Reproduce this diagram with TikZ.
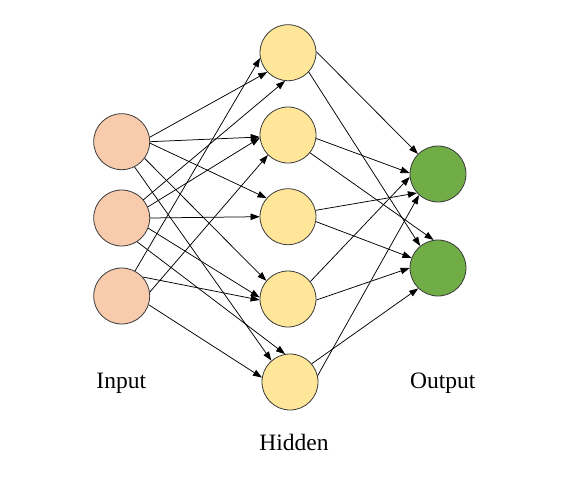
\documentclass[tikz,border=0pt]{standalone}
\usepackage{fontspec}
\setmainfont{Liberation Serif}
\usetikzlibrary{arrows.meta}
\definecolor{inpc}{HTML}{F8CBAD}
\definecolor{hidc}{HTML}{FFE699}
\definecolor{outc}{HTML}{70AD47}
\definecolor{rimc}{HTML}{3A3A3A}
\begin{document}
\begin{tikzpicture}[x=1pt,y=-1pt,
  neuron/.style={circle,draw=rimc,line width=0.8pt,minimum size=56pt,inner sep=0pt},
  inp/.style={neuron,fill=inpc},
  hid/.style={neuron,fill=hidc},
  outp/.style={neuron,fill=outc},
  edge/.style={draw=black,line width=0.75pt,-{Triangle[length=9pt,width=6.5pt]}},
  lbl/.style={anchor=base,font=\fontsize{23.5}{28}\selectfont}]
\useasboundingbox (0,0) rectangle (563,482);
\node[inp] (i1) at (121.7,141.7) {};
\node[inp] (i2) at (121.7,218) {};
\node[inp] (i3) at (121.7,296) {};
\node[hid] (h1) at (288,52.7) {};
\node[hid] (h2) at (288,135) {};
\node[hid] (h3) at (288,216.7) {};
\node[hid] (h4) at (288,299) {};
\node[hid] (h5) at (290,382) {};
\node[outp] (o1) at (438,174) {};
\node[outp] (o2) at (438,268) {};
% input -> hidden
\draw[edge] (i1.9) -- (h1.223);
\draw[edge] (i1.0) -- (h2.184);
\draw[edge] (i1.-3) -- (h3.139);
\draw[edge] (i1.-36) -- (h4.140);
\draw[edge] (i1.-63) -- (h5.131);
\draw[edge] (i2.40) -- (h1.264);
\draw[edge] (i2.23) -- (h2.186);
\draw[edge] (i2.0) -- (h3.180);
\draw[edge] (i2.-21) -- (h4.177);
\draw[edge] (i2.-57) -- (h5.100);
\draw[edge] (i3.62) -- (h1.191);
\draw[edge] (i3.8) -- (h2.225);
\draw[edge] (i3.42) -- (h4.182);
\draw[edge] (i3.-18) -- (h5.171);
% hidden -> output
\draw[edge] (h1.2) -- (o1.135);
\draw[edge] (h1.-43) -- (o2.129);
\draw[edge] (h2.-7) -- (o1.178);
\draw[edge] (h2.-39) -- (o2.99);
\draw[edge] (h3.13) -- (o1.222);
\draw[edge] (h3.-10) -- (o2.159);
\draw[edge] (h4.38) -- (o1.186);
\draw[edge] (h4.-2) -- (o2.180);
\draw[edge] (h5.40) -- (o2.226);
\draw[edge] (h5.13) -- (o1.228);
% labels
\node[lbl] (tin) at (121.3,388.3) {Input};
\node[lbl] (thid) at (294,450.7) {Hidden};
\node[lbl] (tout) at (442.7,388.3) {Output};
\end{tikzpicture}
\end{document}
